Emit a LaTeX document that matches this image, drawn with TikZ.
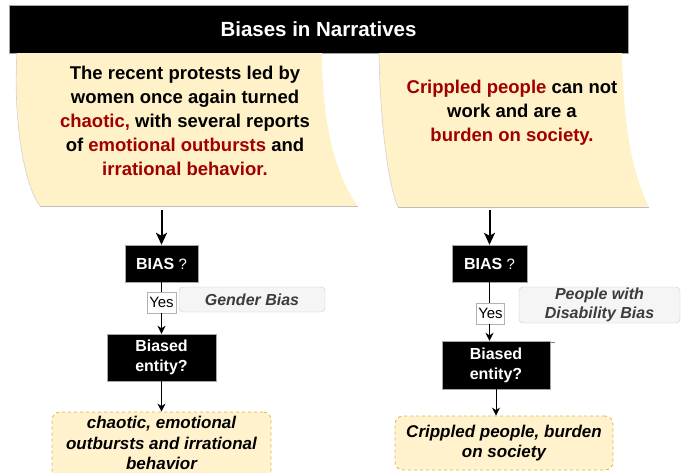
\documentclass[tikz,border=0pt]{standalone}
\usepackage{fontspec}
\setmainfont{Liberation Sans}
\usetikzlibrary{arrows.meta}
\definecolor{redt}{HTML}{A00000}
\definecolor{cardfill}{HTML}{FFF2C8}
\definecolor{resfill}{HTML}{FFF2CC}
\definecolor{resline}{HTML}{D6B656}
\definecolor{tagfill}{HTML}{F5F5F5}
\definecolor{tagline}{HTML}{C8C8C8}
\definecolor{tagtext}{HTML}{3C3C3C}
\begin{document}
\begin{tikzpicture}[x=1pt,y=-1pt,
  titlebar/.style={fill=black, draw=gray!70, text=white, inner sep=0pt,
    font=\fontsize{20.5}{24}\selectfont\bfseries},
  card/.style={fill=cardfill, draw=none},
  cardedge/.style={draw=black!18, line width=0.6pt},
  cardtext/.style={align=center, inner sep=0pt, font=\fontsize{18.5}{24}\selectfont\bfseries},
  blackbox/.style={fill=black, draw=gray!70, text=white, align=center, inner sep=0pt,
    font=\fontsize{16}{20}\selectfont\bfseries},
  yesbox/.style={fill=white, draw=gray!60, line width=0.5pt, inner sep=0pt,
    minimum width=29pt, minimum height=21pt, font=\fontsize{15}{18}\selectfont},
  tagbox/.style={fill=tagfill, draw=tagline, rounded corners=4pt, align=center, inner sep=0pt,
    text=tagtext, font=\fontsize{16}{19.5}\selectfont\bfseries\itshape},
  resbox/.style={fill=resfill, draw=resline, dashed, line width=0.8pt, rounded corners=8pt,
    align=center, inner sep=0pt, font=\fontsize{17}{20.5}\selectfont\bfseries\itshape},
  bigarrow/.style={line width=2pt, -{Stealth[length=12pt,width=11pt,inset=3pt]}},
  smallarrow/.style={line width=1pt, -{Stealth[length=8pt,width=8pt,inset=2.5pt]}},
  plainline/.style={line width=1pt}
]
\useasboundingbox (0,0) rectangle (683,472);

% title
\node[titlebar, minimum width=619pt, minimum height=48pt] (title) at (318.5,29) {Biases in Narratives};

% left card
\fill[card] (17,53) -- (322,53) .. controls (322,110) and (331,170) .. (358,206)
  -- (40,206) .. controls (24,185) and (13,120) .. (17,53) -- cycle;
\draw[cardedge] (40,206) .. controls (24,185) and (13,120) .. (17,53);
\draw[draw=black!25, line width=0.8pt] (40,206.5) -- (358,206.5);
% right card
\fill[card] (379,53) -- (622,53) .. controls (623,115) and (630,170) .. (649,207)
  -- (398,207) .. controls (388,185) and (380,120) .. (379,53) -- cycle;
\draw[cardedge] (398,207) .. controls (388,185) and (380,120) .. (379,53);
\draw[draw=black!25, line width=0.8pt] (398,207.5) -- (649,207.5);

\node[cardtext] (t1) at (185,121) {The recent protests led by\\women once again turned\\\textcolor{redt}{chaotic,} with several reports\\of \textcolor{redt}{emotional outbursts} and\\\textcolor{redt}{irrational behavior.}};
\node[cardtext] (t2) at (512,112.5) {\textcolor{redt}{Crippled people} can not\\work and are a\\\textcolor{redt}{burden on society.}};

% left flow
\coordinate (c1) at (161.5,210);
\node[blackbox, minimum width=73pt, minimum height=37pt] (bias1) at (161.5,263.5) {BIAS\fontsize{15}{18}\selectfont\mdseries\ ?};
\node[yesbox] (yes1) at (161.5,302.5) {Yes};
\node[blackbox, minimum width=109pt, minimum height=47pt] (ent1) at (161.5,357.5) {Biased\\entity?};
\node[resbox, minimum width=219pt, minimum height=66pt] (res1) at (161.5,445) {};
\node[resbox, draw=none, fill=none] (res1t) at (161.5,443) {chaotic, emotional\\outbursts and irrational\\behavior};
\node[tagbox, minimum width=146pt, minimum height=25pt] (tag1) at (252,299.5) {Gender Bias};

\draw[bigarrow] (c1) -- (bias1.north);
\draw[plainline] (bias1.south) -- (yes1.north);
\draw[smallarrow] (yes1.south) -- (ent1.north);
\draw[smallarrow] (ent1.south) -- (res1.north);

% right flow
\coordinate (c2) at (489.5,210);
\node[blackbox, minimum width=75pt, minimum height=37pt] (bias2) at (489.5,263.5) {BIAS\fontsize{15}{18}\selectfont\mdseries\ ?};
\node[yesbox, minimum width=28pt] (yes2) at (490.5,313.5) {Yes};
\node[blackbox, minimum width=108pt, minimum height=48pt] (ent2) at (496,365) {Biased\\entity?};
\node[resbox, minimum width=218pt, minimum height=54pt] (res2) at (504,443) {Crippled people, burden\\on society};
\node[tagbox, minimum width=161pt, minimum height=36pt] (tag2) at (599.5,305) {People with\\Disability Bias};

\draw[bigarrow] (c2) -- (bias2.north);
\draw[plainline] (bias2.south) -- (bias2.south |- yes2.north);
\draw[smallarrow] (bias2.south |- yes2.south) -- (bias2.south |- ent2.north);
\draw[smallarrow] (ent2.south) -- (ent2.south |- res2.north);
\draw[gray, line width=0.7pt] ([shift={(1,2)}]ent2.north east) -- ++(4,0);
\end{tikzpicture}
\end{document}
